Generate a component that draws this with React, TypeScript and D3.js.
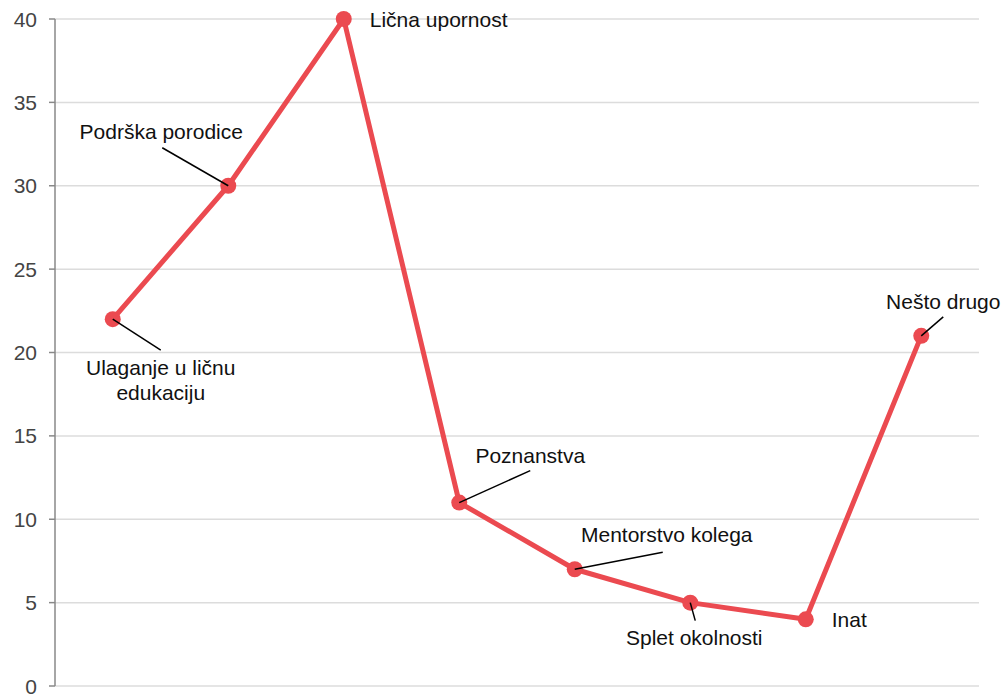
import React from "react";
import * as d3 from "d3";

const categories = [
  "Ulaganje u ličnu edukaciju",
  "Podrška porodice",
  "Lična upornost",
  "Poznanstva",
  "Mentorstvo kolega",
  "Splet okolnosti",
  "Inat",
  "Nešto drugo",
];
const values = [22, 30, 40, 11, 7, 5, 4, 21];
const yTicks = [0, 5, 10, 15, 20, 25, 30, 35, 40];
const labelLines = [
  ["Ulaganje u ličnu", "edukaciju"],
  ["Podrška porodice"],
  ["Lična upornost"],
  ["Poznanstva"],
  ["Mentorstvo kolega"],
  ["Splet okolnosti"],
  ["Inat"],
  ["Nešto drugo"],
];
// label placement: leader end offset (lx, ly), text anchor, text offset
const labelLayout = [
  { lx: 48, ly: 31, anchor: "middle", tx: 48, ty: 56, leader: true },
  { lx: -66, ly: -38, anchor: "middle", tx: -67, ty: -47, leader: true },
  { lx: 0, ly: 0, anchor: "start", tx: 26, ty: 8, leader: false },
  { lx: 71, ly: -32, anchor: "middle", tx: 71, ty: -40, leader: true },
  { lx: 88, ly: -17, anchor: "middle", tx: 92, ty: -27, leader: true },
  { lx: 5, ly: 18, anchor: "middle", tx: 4, ty: 42, leader: true },
  { lx: 0, ly: 0, anchor: "start", tx: 26, ty: 8, leader: false },
  { lx: 22, ly: -19, anchor: "middle", tx: 22, ty: -27, leader: true },
];

const W = 1004;
const H = 694;
const left = 55;
const right = 979;
const top = 19;
const bottom = 686;
const red = "#eb4a50";
const font = "'Liberation Sans', Arial, sans-serif";

export default function App() {
  const x = d3.scaleBand<string>().domain(categories).range([left, right]).padding(0);
  const y = d3.scaleLinear().domain([0, 40]).range([bottom, top]);
  const cx = (c: string) => (x(c) as number) + x.bandwidth() / 2;
  const line = d3
    .line<number>()
    .x((_, i) => cx(categories[i]))
    .y((d) => y(d));

  return (
    <svg
      width={W}
      height={H}
      style={{ position: "absolute", left: 0, top: 0, background: "#fff" }}
      fontFamily={font}
    >
      {yTicks.map((t) => (
        <g key={t}>
          <line x1={left} x2={right} y1={y(t)} y2={y(t)} stroke="#dcdcdc" strokeWidth={1.5} />
          <line x1={left - 6} x2={left} y1={y(t)} y2={y(t)} stroke="#888" strokeWidth={1.5} />
          <text x={left - 18} y={y(t) + 7.5} textAnchor="end" fontSize={21} fill="#444">
            {t}
          </text>
        </g>
      ))}
      <line x1={left} x2={left} y1={top} y2={bottom} stroke="#888" strokeWidth={1.5} />
      <path d={line(values) || ""} fill="none" stroke={red} strokeWidth={5} strokeLinejoin="round" />
      {values.map((v, i) => (
        <circle key={i} cx={cx(categories[i])} cy={y(v)} r={8} fill={red} />
      ))}
      {values.map((v, i) => {
        const px = cx(categories[i]);
        const py = y(v);
        const L = labelLayout[i];
        const lines = labelLines[i];
        return (
          <g key={"l" + i}>
            {L.leader && (
              <line x1={px} y1={py} x2={px + L.lx} y2={py + L.ly} stroke="#000" strokeWidth={1.5} />
            )}
            <text
              x={px + L.tx}
              y={py + L.ty}
              textAnchor={L.anchor as any}
              fontSize={21}
              fill="#111"
            >
              {lines.map((s, k) => (
                <tspan key={k} x={px + L.tx} dy={k === 0 ? 0 : 25}>
                  {s}
                </tspan>
              ))}
            </text>
          </g>
        );
      })}
    </svg>
  );
}
